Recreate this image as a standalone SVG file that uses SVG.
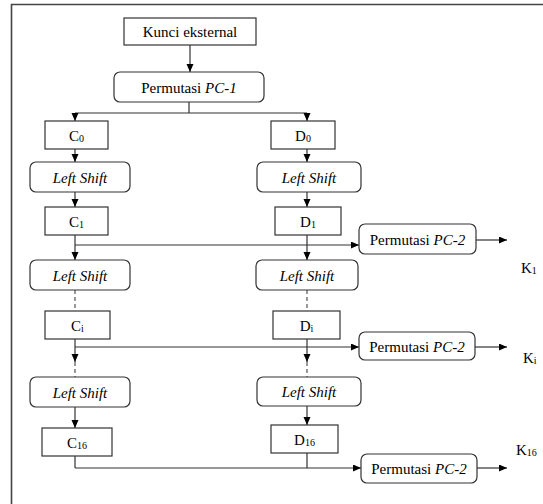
<svg xmlns="http://www.w3.org/2000/svg" width="543" height="504" viewBox="0 0 543 504">
<style>
.box{fill:#fff;stroke:#333;stroke-width:1.2}
.t{font-family:"Liberation Serif","Times New Roman",serif;font-size:15px;fill:#000;text-anchor:middle}
.k{font-family:"Liberation Serif","Times New Roman",serif;font-size:15px;fill:#000}
.sub{font-size:10px}
.it{font-style:italic}
.ln{fill:none;stroke:#333;stroke-width:1.2}
.da{fill:none;stroke:#555;stroke-width:1.2;stroke-dasharray:4 3}
</style>
<defs>
<marker id="ah" markerWidth="9" markerHeight="8" refX="8" refY="3.5" orient="auto" markerUnits="userSpaceOnUse">
<path d="M0,0 L8,3.5 L0,7 z" fill="#000"/>
</marker>
</defs>
<rect width="543" height="504" fill="#fff"/>
<path d="M11.5,504 V4.5 H543" fill="none" stroke="#444" stroke-width="1.6"/>

<g id="connectors">
<line class="ln" x1="190" y1="45" x2="190" y2="72" marker-end="url(#ah)"/>
<path class="ln" d="M189,102 V113 M75,113 H307"/>
<line class="ln" x1="75" y1="113" x2="75" y2="121" marker-end="url(#ah)"/>
<line class="ln" x1="307" y1="113" x2="307" y2="121" marker-end="url(#ah)"/>
<line class="ln" x1="75" y1="149" x2="75" y2="162" marker-end="url(#ah)"/>
<line class="ln" x1="307" y1="149" x2="307" y2="162" marker-end="url(#ah)"/>
<line class="ln" x1="75" y1="192" x2="75" y2="207" marker-end="url(#ah)"/>
<line class="ln" x1="307" y1="192" x2="307" y2="207" marker-end="url(#ah)"/>
<line class="ln" x1="75" y1="235" x2="75" y2="260" marker-end="url(#ah)"/>
<line class="ln" x1="307" y1="235" x2="307" y2="260" marker-end="url(#ah)"/>
<line class="ln" x1="75" y1="245" x2="359" y2="245" marker-end="url(#ah)"/>
<line class="ln" x1="476" y1="240" x2="507" y2="240" marker-end="url(#ah)"/>
<line class="da" x1="75" y1="290" x2="75" y2="311"/>
<line class="da" x1="307" y1="290" x2="307" y2="311"/>
<line class="ln" x1="75" y1="339" x2="75" y2="362" marker-end="url(#ah)"/>
<line class="ln" x1="307" y1="339" x2="307" y2="362" marker-end="url(#ah)"/>
<line class="da" x1="75" y1="362" x2="75" y2="377"/>
<line class="da" x1="307" y1="362" x2="307" y2="377"/>
<line class="ln" x1="75" y1="347" x2="359" y2="347" marker-end="url(#ah)"/>
<line class="ln" x1="475" y1="347" x2="507" y2="347" marker-end="url(#ah)"/>
<line class="ln" x1="75" y1="407" x2="75" y2="428" marker-end="url(#ah)"/>
<line class="ln" x1="307" y1="406" x2="307" y2="425" marker-end="url(#ah)"/>
<path class="ln" d="M75,456 V468 M307,453 V468"/>
<line class="ln" x1="75" y1="468" x2="361" y2="468" marker-end="url(#ah)"/>
<line class="ln" x1="477" y1="468" x2="507" y2="468" marker-end="url(#ah)"/>
</g>

<g id="kunci"><rect class="box" x="124" y="18" width="132" height="27"/><text class="t" x="190" y="36.5">Kunci eksternal</text></g>
<g id="pc1"><rect class="box" x="114" y="72" width="150" height="30" rx="6"/><text class="t" x="189" y="92.5">Permutasi <tspan class="it">PC-1</tspan></text></g>

<g id="c0"><rect class="box" x="45" y="121" width="63" height="28"/><text class="t" x="76.5" y="140.5">C<tspan class="sub" dy="1">0</tspan></text></g>
<g id="d0"><rect class="box" x="271" y="121" width="64" height="28"/><text class="t" x="303" y="140.5">D<tspan class="sub" dy="1">0</tspan></text></g>

<g id="ls-c1"><rect class="box" x="30" y="162" width="100" height="30" rx="6"/><text class="t it" x="80" y="182.5">Left Shift</text></g>
<g id="ls-d1"><rect class="box" x="257" y="162" width="104" height="30" rx="6"/><text class="t it" x="309" y="182.5">Left Shift</text></g>

<g id="c1"><rect class="box" x="45" y="207" width="63" height="28"/><text class="t" x="76.5" y="226.5">C<tspan class="sub" dy="1">1</tspan></text></g>
<g id="d1"><rect class="box" x="275" y="207" width="66" height="28"/><text class="t" x="308" y="226.5">D<tspan class="sub" dy="1">1</tspan></text></g>

<g id="pc2-1"><rect class="box" x="359" y="224" width="117" height="30" rx="6"/><text class="t" x="417.5" y="244.5">Permutasi <tspan class="it">PC-2</tspan></text></g>
<g id="k1"><text class="k" x="521" y="273">K<tspan class="sub" dy="1">1</tspan></text></g>

<g id="ls-c2"><rect class="box" x="30" y="260" width="100" height="30" rx="6"/><text class="t it" x="80" y="280.5">Left Shift</text></g>
<g id="ls-d2"><rect class="box" x="256" y="260" width="102" height="30" rx="6"/><text class="t it" x="307" y="280.5">Left Shift</text></g>

<g id="ci"><rect class="box" x="45" y="311" width="65" height="28"/><text class="t" x="77.5" y="330.5">C<tspan class="sub" dy="1">i</tspan></text></g>
<g id="di"><rect class="box" x="273" y="311" width="67" height="28"/><text class="t" x="306.5" y="330.5">D<tspan class="sub" dy="1">i</tspan></text></g>

<g id="pc2-i"><rect class="box" x="359" y="332" width="116" height="28" rx="6"/><text class="t" x="417" y="351.5">Permutasi <tspan class="it">PC-2</tspan></text></g>
<g id="ki"><text class="k" x="523" y="363">K<tspan class="sub" dy="1">i</tspan></text></g>

<g id="ls-c3"><rect class="box" x="30" y="377" width="100" height="30" rx="6"/><text class="t it" x="80" y="397.5">Left Shift</text></g>
<g id="ls-d3"><rect class="box" x="257" y="377" width="104" height="29" rx="6"/><text class="t it" x="309" y="396.5">Left Shift</text></g>

<g id="c16"><rect class="box" x="42" y="428" width="70" height="28"/><text class="t" x="77" y="447.5">C<tspan class="sub" dy="1">16</tspan></text></g>
<g id="d16"><rect class="box" x="271" y="425" width="67" height="28"/><text class="t" x="304.5" y="444.5">D<tspan class="sub" dy="1">16</tspan></text></g>

<g id="pc2-16"><rect class="box" x="361" y="454" width="116" height="29" rx="6"/><text class="t" x="419" y="473.5">Permutasi <tspan class="it">PC-2</tspan></text></g>
<g id="k16"><text class="k" x="516" y="455">K<tspan class="sub" dy="1">16</tspan></text></g>
</svg>
